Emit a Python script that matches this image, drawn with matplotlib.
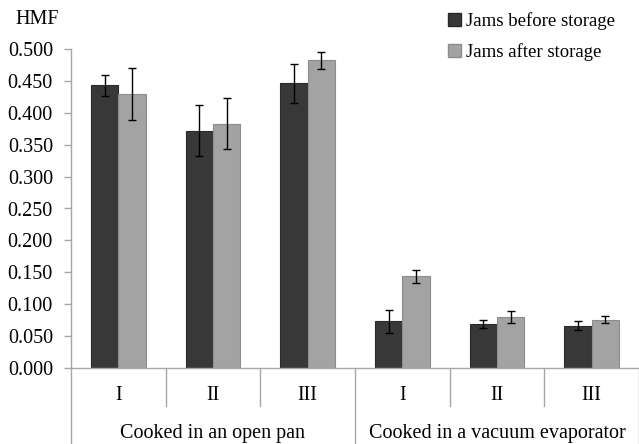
import numpy as np
import matplotlib.pyplot as plt
from matplotlib.patches import Patch

plt.rcParams['font.family'] = ['Liberation Serif', 'DejaVu Serif']

groups = ['Cooked in an open pan', 'Cooked in a vacuum evaporator']
samples = ['I', 'II', 'III', 'I', 'II', 'III']
before = [0.443, 0.372, 0.446, 0.073, 0.069, 0.066]
before_err = [0.016, 0.040, 0.031, 0.018, 0.007, 0.007]
after = [0.430, 0.383, 0.482, 0.144, 0.080, 0.076]
after_err = [0.041, 0.040, 0.014, 0.010, 0.010, 0.006]
yticks = [0.0, 0.05, 0.1, 0.15, 0.2, 0.25, 0.3, 0.35, 0.4, 0.45, 0.5]

dark = '#383838'
light = '#a3a3a3'
axis_gray = '#a6a6a6'

fig = plt.figure(figsize=(6.39, 4.44), dpi=100)
ax = fig.add_axes([71 / 639, 76 / 444, 568 / 639, 319 / 444])

x = np.arange(len(samples))
w = 0.29
ax.bar(x - w / 2, before, w, color=dark, edgecolor='#2a2a2a', linewidth=0.8,
       yerr=before_err, capsize=3,
       error_kw={'elinewidth': 1, 'capthick': 1, 'ecolor': 'black'})
ax.bar(x + w / 2, after, w, color=light, edgecolor='#8c8c8c', linewidth=0.8,
       yerr=after_err, capsize=3,
       error_kw={'elinewidth': 1, 'capthick': 1, 'ecolor': 'black'})

ax.set_xlim(-0.5, 5.5)
ax.set_ylim(0, 0.5)
ax.set_yticks(yticks)
ax.set_yticklabels([f'{v:.3f}' for v in yticks], fontsize=14.5)
ax.tick_params(axis='y', length=5, color=axis_gray, width=1, pad=8)
ax.set_xticks([])

for s in ['top', 'right']:
    ax.spines[s].set_visible(False)
for s in ['left', 'bottom']:
    ax.spines[s].set_color(axis_gray)
    ax.spines[s].set_linewidth(1)

# hierarchical category axis
trans = ax.get_xaxis_transform()
for b in [-0.5, 2.5, 5.5]:
    ax.plot([b, b], [0, -0.24], transform=trans, color=axis_gray, lw=1,
            clip_on=False)
for b in [0.5, 1.5, 3.5, 4.5]:
    ax.plot([b, b], [0, -0.119], transform=trans, color=axis_gray, lw=1,
            clip_on=False)
for xi, lab in zip(x, samples):
    ax.text(xi, -0.085, lab, transform=trans, ha='center', va='center',
            fontsize=14.5)
for gi, lab in enumerate(groups):
    ax.text(gi * 3 + 1, -0.205, lab, transform=trans, ha='center',
            va='center', fontsize=14.5)

fig.text(15 / 639, 1 - 20 / 444, 'HMF', ha='left', va='center', fontsize=14.5)

handles = [Patch(facecolor=dark, edgecolor='#2a2a2a'),
           Patch(facecolor=light, edgecolor='#8c8c8c')]
fig.legend(handles, ['Jams before storage', 'Jams after storage'],
           loc='upper left', bbox_to_anchor=(439 / 639, 1 - 3 / 444),
           frameon=False, fontsize=13.5, handlelength=0.65, handleheight=0.65,
           handletextpad=0.3, labelspacing=0.7, borderpad=0)

fig.savefig('out.png', dpi=100)
